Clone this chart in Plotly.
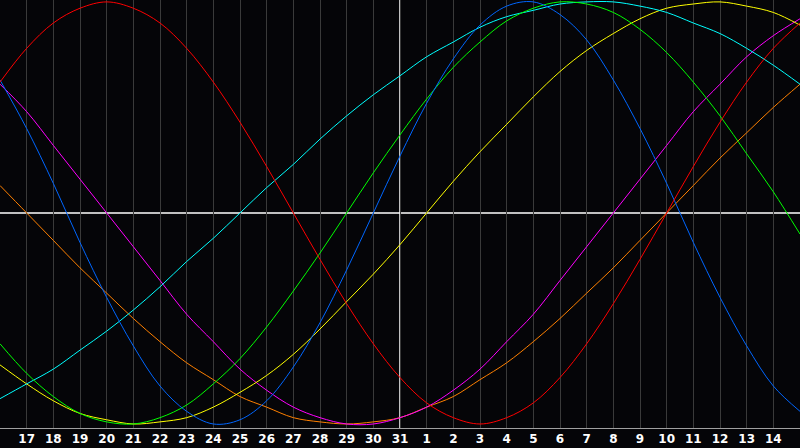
import plotly.graph_objects as go

# days shown along the bottom (16th of one month to the 15th of the next)
day_labels = [16, 17, 18, 19, 20, 21, 22, 23, 24, 25, 26, 27, 28, 29, 30, 31,
              1, 2, 3, 4, 5, 6, 7, 8, 9, 10, 11, 12, 13, 14, 15]

# cycle values read per day off the chart (-1 .. 1)
physical = [0.63, 0.40, 0.14, -0.14, -0.40, -0.63, -0.82, -0.94, -1.00, -0.98,
            -0.89, -0.73, -0.52, -0.27, 0.00, 0.27, 0.52, 0.73, 0.89, 0.98,
            1.00, 0.94, 0.82, 0.63, 0.40, 0.14, -0.14, -0.40, -0.63, -0.82, -0.94]
emotional = [0.62, 0.78, 0.90, 0.97, 1.00, 0.97, 0.90, 0.78, 0.62, 0.43,
             0.22, 0.00, -0.22, -0.43, -0.62, -0.78, -0.90, -0.97, -1.00, -0.97,
             -0.90, -0.78, -0.62, -0.43, -0.22, 0.00, 0.22, 0.43, 0.62, 0.78, 0.90]
intellectual = [-0.62, -0.76, -0.87, -0.95, -0.99, -1.00, -0.97, -0.91, -0.81, -0.69,
                -0.54, -0.37, -0.19, 0.00, 0.19, 0.37, 0.54, 0.69, 0.81, 0.91,
                0.97, 1.00, 0.99, 0.95, 0.87, 0.76, 0.62, 0.46, 0.28, 0.10, -0.10]
spiritual = [-0.88, -0.81, -0.74, -0.65, -0.56, -0.46, -0.35, -0.23, -0.12, 0.00,
             0.12, 0.23, 0.35, 0.46, 0.56, 0.65, 0.74, 0.81, 0.88, 0.93,
             0.96, 0.99, 1.00, 1.00, 0.98, 0.95, 0.90, 0.85, 0.78, 0.70, 0.61]
aesthetic = [-0.72, -0.81, -0.89, -0.95, -0.98, -1.00, -0.99, -0.97, -0.92, -0.85,
             -0.77, -0.67, -0.55, -0.42, -0.29, -0.15, 0.00, 0.15, 0.29, 0.42,
             0.55, 0.67, 0.77, 0.85, 0.92, 0.97, 0.99, 1.00, 0.98, 0.95, 0.89]
intuitive = [0.61, 0.48, 0.32, 0.16, 0.00, -0.16, -0.32, -0.48, -0.61, -0.74,
             -0.84, -0.92, -0.97, -1.00, -1.00, -0.97, -0.92, -0.84, -0.74, -0.61,
             -0.48, -0.32, -0.16, 0.00, 0.16, 0.32, 0.48, 0.61, 0.74, 0.84, 0.92]
awareness = [0.13, 0.00, -0.13, -0.26, -0.38, -0.50, -0.61, -0.71, -0.79, -0.87,
             -0.92, -0.97, -0.99, -1.00, -0.99, -0.97, -0.92, -0.87, -0.79, -0.71,
             -0.61, -0.50, -0.38, -0.26, -0.13, 0.00, 0.13, 0.26, 0.38, 0.50, 0.61]

x = list(range(len(day_labels)))

series = [
    ("awareness", awareness, "#ff8000"),
    ("intuitive", intuitive, "#ff00ff"),
    ("aesthetic", aesthetic, "#ffff00"),
    ("spiritual", spiritual, "#00ffff"),
    ("intellectual", intellectual, "#00ff00"),
    ("physical", physical, "#0066ff"),
    ("emotional", emotional, "#ff0000"),
]

fig = go.Figure()
for name, vals, col in series:
    fig.add_trace(go.Scatter(x=x, y=vals, name=name, mode="lines",
                             line=dict(color=col, width=1, shape="spline", smoothing=1.0),
                             hoverinfo="skip"))

# white cross: month boundary and zero line
fig.add_shape(type="line", x0=15, x1=15, y0=0, y1=1, yref="paper",
              line=dict(color="white", width=1.5), layer="between")
fig.add_shape(type="line", x0=0, x1=1, xref="paper", y0=0, y1=0,
              line=dict(color="white", width=1.5), layer="between")

fig.update_layout(
    width=800, height=448,
    margin=dict(l=0, r=0, t=0, b=20),
    paper_bgcolor="#050508",
    plot_bgcolor="#050508",
    showlegend=False,
)
fig.update_xaxes(range=[0, 30], tickvals=x[1:-1], ticktext=[str(d) for d in day_labels[1:-1]],
                 showgrid=True, gridcolor="#3a3a3a", gridwidth=1, zeroline=False,
                 showline=True, linecolor="#a0a0a0", linewidth=1, mirror=True,
                 ticks="", tickfont=dict(family="DejaVu Sans", size=12, color="white", weight="bold"))
fig.update_yaxes(range=[-1.019, 1.009], showgrid=False, zeroline=False, showticklabels=False,
                 showline=True, linecolor="#a0a0a0", linewidth=1, ticks="")

# page has a default body margin; drop it so the chart fills the window
fig.write_html("out.html", config={"displayModeBar": False},
               post_script="document.body.style.margin='0';document.body.style.background='#050508';")
